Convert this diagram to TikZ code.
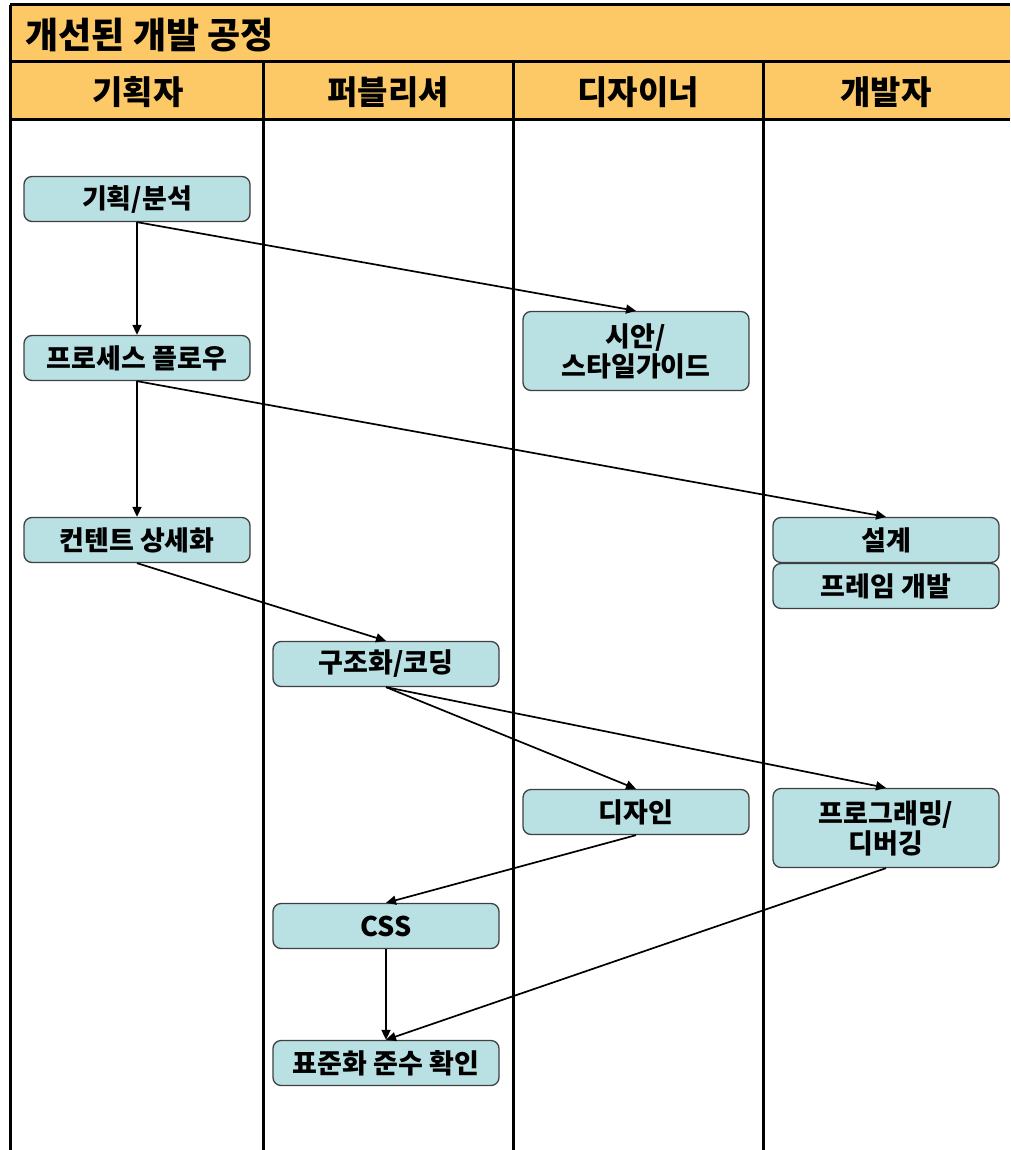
\documentclass[tikz,border=0pt]{standalone}
\usepackage{fontspec}
\setmainfont{Noto Sans CJK KR}
\usepackage{tikz}
\usetikzlibrary{arrows.meta}

\definecolor{laneorange}{HTML}{FDC966}
\definecolor{boxteal}{HTML}{B9E0E3}

\begin{document}
\begin{tikzpicture}[
  x=1pt, y=-1pt, >={Triangle[length=10pt,width=9pt]},
  lane/.style={line width=3pt},
  task/.style={draw=black!75,fill=boxteal,line width=1.3pt,rounded corners=8pt,
    minimum width=226pt,minimum height=45pt,align=center,inner sep=2pt,
    font=\fontsize{27}{30}\selectfont\bfseries},
  head/.style={font=\fontsize{33}{36}\selectfont\bfseries},
  flow/.style={->,line width=1.7pt}
]
\useasboundingbox (0,0) rectangle (1010,1150);
% title band and lane heads
\fill[laneorange] (10,5) rectangle (1010,120);
\draw[lane] (10,5) -- (1010,5);
\draw[lane] (10,62) -- (1010,62);
\draw[lane] (10,120) -- (1010,120);
\draw[lane] (10,5) -- (10,1150);
\foreach \lx in {263,513,763}
  \draw[lane] (\lx,62) -- (\lx,1150);
\node[anchor=west,font=\fontsize{36}{38}\selectfont\bfseries] (title) at (22,35) {개선된 개발 공정};
\node[head] (planner) at (138,92) {기획자};
\node[head] (publisher) at (388,92) {퍼블리셔};
\node[head] (designer) at (638,92) {디자이너};
\node[head] (developer) at (886,92) {개발자};

% tasks
\node[task] (plan) at (137,199) {기획/분석};
\node[task] (process) at (137,358) {프로세스 플로우};
\node[task] (content) at (137,540) {컨텐트 상세화};
\node[task,minimum height=79pt] (guide) at (636,351) {시안/\\스타일가이드};
\node[task] (arch) at (886,540) {설계};
\node[task] (frame) at (886,586) {프레임 개발};
\node[task] (coding) at (386,664) {구조화/코딩};
\node[task] (design) at (636,812) {디자인};
\node[task,minimum height=79pt] (debug) at (886,828) {프로그래밍/\\디버깅};
\node[task] (css) at (386,926) {CSS};
\node[task] (check) at (386,1063) {표준화 준수 확인};

% flow
\draw[flow] (plan.south) -- (process.north);
\draw[flow] (plan.south) -- (guide.north);
\draw[flow] (process.south) -- (content.north);
\draw[flow] (process.south) -- (arch.north);
\draw[flow] (content.south) -- (coding.north);
\draw[flow] (coding.south) -- (design.north);
\draw[flow] (coding.south) -- (debug.north);
\draw[flow] (design.south) -- (css.north);
\draw[flow] (css.south) -- (check.north);
\draw[flow] (debug.south) -- (check.north);
\end{tikzpicture}
\end{document}
